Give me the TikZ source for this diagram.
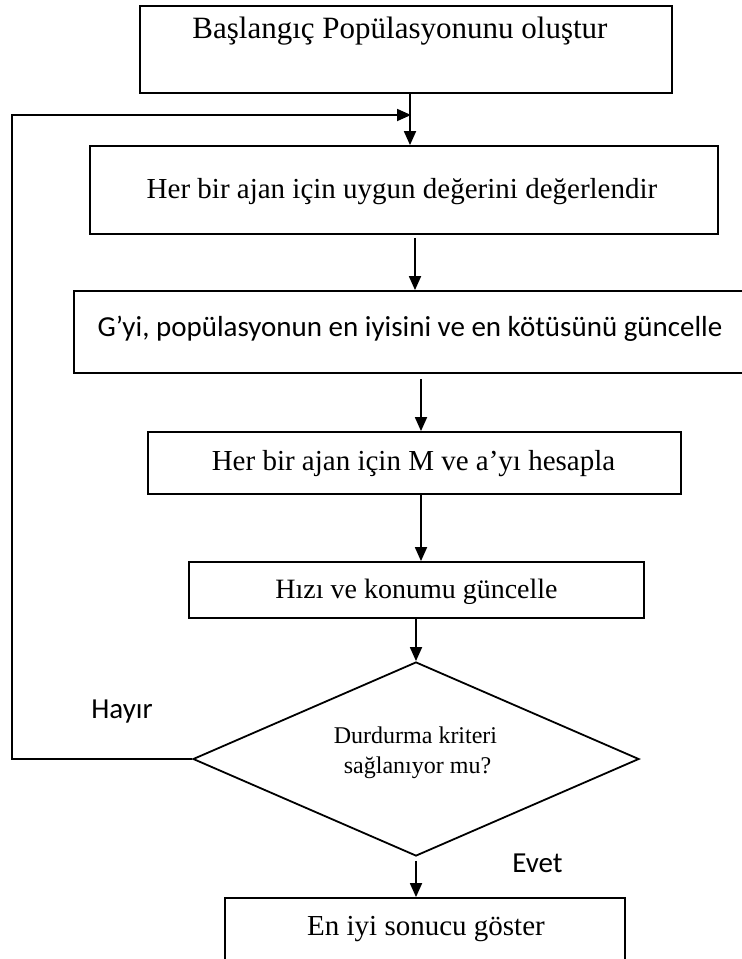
\documentclass[tikz,border=0pt]{standalone}
\usepackage{fontspec}
\setmainfont{Liberation Serif}
\newfontfamily\calib{Carlito}
\usetikzlibrary{arrows.meta,calc,shapes.geometric}
\tikzset{
  box/.style={draw=black,line width=1.8pt,rectangle,inner sep=0pt},
  dia/.style={draw=black,line width=1.8pt,diamond,inner sep=0pt},
  txt/.style={anchor=base,inner sep=0pt,text=black},
  arr/.style={draw=black,line width=1.8pt,-{Triangle[length=14pt,width=12pt]}},
  conn/.style={draw=black,line width=1.8pt},
}
\newcommand{\fsz}[1]{\fontsize{#1}{#1}\selectfont}
\begin{document}
\begin{tikzpicture}[x=1pt,y=-1pt]
\useasboundingbox (0,0) rectangle (742,959);
\fill[white] (0,0) rectangle (742,959);
\clip (0,0) rectangle (742,959);
% boxes
\node[box,minimum width=532pt,minimum height=87pt] (b1) at (406,49.5) {};
\node[box,minimum width=628pt,minimum height=88pt] (b2) at (404,190) {};
\node[box,minimum width=686pt,minimum height=82pt] (b3) at (417,332) {};
\node[box,minimum width=533pt,minimum height=62pt] (b4) at (414.5,463) {};
\node[box,minimum width=455pt,minimum height=56pt] (b5) at (416.5,590) {};
\node[dia,minimum width=446pt,minimum height=194pt] (d) at (416,759) {};
\node[box,minimum width=400pt,minimum height=82pt] (b6) at (425,939) {};
% texts
\node[txt] (t1) at (400,38) {\fsz{31}Başlangıç Popülasyonunu oluştur};
\node[txt] (t2) at (402,198) {\fsz{29}Her bir ajan için uygun değerini değerlendir};
\node[txt] (t3) at (410,336) {\calib\fsz{29}G’yi, popülasyonun en iyisini ve en kötüsünü güncelle};
\node[txt] (t4) at (413.5,470) {\fsz{29}Her bir ajan için M ve a’yı hesapla};
\node[txt] (t5) at (416.5,598) {\fsz{28}Hızı ve konumu güncelle};
\node[txt] (t6) at (415.5,743) {\fsz{24}Durdurma kriteri};
\node[txt] (t7) at (417.5,773) {\fsz{24}sağlanıyor mu?};
\node[txt] (hay) at (122,718) {\calib\fsz{29}Hayır};
\node[txt] (evt) at (537.5,872) {\calib\fsz{29}Evet};
\node[txt] (t8) at (426,935) {\fsz{29}En iyi sonucu göster};
% helper coordinates
\coordinate (x1) at (410,0);
\coordinate (x2) at (415,0);
\coordinate (x3) at (421,0);
\coordinate (fb) at (12,115);
% connectors
\draw[arr] (b1.south -| x1) -- (b2.north -| x1);
\draw[conn] (d.west) -- (d.west -| fb) -- (fb) -- (fb -| x1);
\draw[arr] (fb) -- ($(fb -| x1)+(1,0)$);
\draw[arr] ($(b2.south -| x2)+(0,3)$) -- (b3.north -| x2);
\draw[arr] ($(b3.south -| x3)+(0,5)$) -- (b4.north -| x3);
\draw[arr] (b4.south -| x3) -- (b5.north -| x3);
\draw[arr] (b5.south -| d.north) -- (d.north);
\draw[arr] ($(d.south)+(0,4)$) -- (b6.north -| d.south);
\end{tikzpicture}
\end{document}
